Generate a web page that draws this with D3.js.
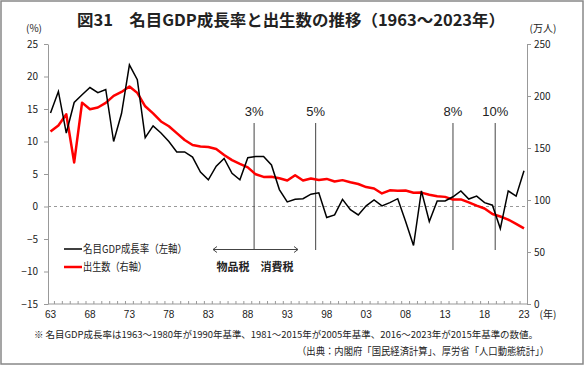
<!DOCTYPE html>
<html>
<head lang="ja">
    <meta charset="utf-8">
    <title>名目GDP成長率と出生数の推移</title>
    <style type="text/css">
        body {
            margin: 0;
            background-color: #fff;
        }

        text {
            font-family: "Noto Sans CJK JP", "Liberation Sans", sans-serif;
            fill: #222;
        }

        .num {
            font-family: "Liberation Sans", Arial, sans-serif;
            font-size: 10px;
        }

        .axis path, .axis line {
            stroke: #999;
        }
    </style>
</head>
<body>

<script src="https://cdn.jsdelivr.net/npm/d3@7"></script>
<script type="text/javascript">
    //年（1963～2023）
    var years = d3.range(1963, 2024);

    //名目GDP成長率（%）
    var gdpGrowth = [14.4, 17.7, 11.3, 16.0, 17.2, 18.3, 17.5, 18.0, 10.0, 14.3,
        21.8, 19.5, 10.6, 12.4, 11.3, 10.0, 8.4, 8.4, 7.6, 5.3,
        4.1, 6.2, 7.4, 5.1, 4.1, 7.5, 7.7, 7.7, 6.4, 2.6,
        0.7, 1.1, 1.2, 1.9, 2.1, -1.7, -1.3, 1.1, -0.5, -1.3,
        0.1, 1.0, 0.1, 0.6, 1.2, -2.3, -6.0, 2.4, -2.3, 0.85,
        0.85, 1.5, 2.4, 1.15, 1.6, 0.6, 0.2, -3.4, 2.4, 1.6,
        5.5];

    //出生数（万人）
    var births = [165.9, 171.7, 182.4, 136.1, 193.6, 187.2, 188.9, 193.4, 200.1, 203.9,
        209.2, 203.0, 190.1, 183.3, 175.5, 170.9, 164.3, 157.7, 152.9, 151.5,
        150.9, 149.0, 143.2, 138.3, 134.7, 131.4, 124.7, 122.2, 122.3, 120.9,
        118.8, 123.8, 118.7, 120.7, 119.2, 120.3, 117.8, 119.1, 117.1, 115.4,
        112.4, 111.1, 106.3, 109.3, 109.0, 109.1, 107.0, 107.1, 105.1, 103.7,
        103.0, 100.4, 100.6, 97.7, 94.6, 91.8, 86.5, 84.1, 81.2, 77.1,
        72.7];

    //目盛
    var leftTicks = [-15, -10, -5, 0, 5, 10, 15, 20, 25];
    var rightTicks = [0, 50, 100, 150, 200, 250];
    var labelYears = [1963, 1968, 1973, 1978, 1983, 1988, 1993, 1998, 2003, 2008, 2013, 2018, 2023];
    var xTickLabels = ["63", "68", "73", "78", "83", "88", "93", "98", "03", "08", "13", "18", "23"];

    //消費税率の導入・引上げ
    var taxYears = [1988.8, 1996.6, 2014.0, 2019.35];
    var taxLabels = ["3%", "5%", "8%", "10%"];

    var W = 586, H = 366;
    var pLeft = 48, pRight = 527, pTop = 44, pBottom = 304;

    var svg = d3.select("body")
        .append("svg")
        .attr("width", W)
        .attr("height", H);

    //外枠
    svg.append("rect")
        .attr("x", 1).attr("y", 1)
        .attr("width", 582).attr("height", 363)
        .attr("fill", "none")
        .attr("stroke", "#888")
        .attr("stroke-width", 1.5);

    var x = d3.scaleLinear().domain([1963, 2023]).range([50.5, 524]);
    var yL = d3.scaleLinear().domain([-15, 25]).range([pBottom, pTop]);
    var yR = d3.scaleLinear().domain([0, 250]).range([pBottom, pTop]);

    //タイトル
    svg.append("text")
        .attr("x", 291).attr("y", 26)
        .attr("text-anchor", "middle")
        .attr("textLength", 428)
        .attr("lengthAdjust", "spacingAndGlyphs")
        .style("font-size", "16px")
        .style("font-weight", "bold")
        .text("図31　名目GDP成長率と出生数の推移（1963～2023年）");

    svg.append("text").attr("x", 34).attr("y", 32)
        .attr("text-anchor", "middle").style("font-size", "10px").text("(%)");
    svg.append("text").attr("x", 543).attr("y", 32)
        .attr("text-anchor", "middle").style("font-size", "10px").text("(万人)");

    //左軸
    svg.append("g")
        .attr("class", "axis num")
        .attr("transform", "translate(" + pLeft + ",0)")
        .call(d3.axisLeft(yL).tickValues(leftTicks).tickSize(4).tickSizeOuter(0).tickPadding(6));

    //右軸
    svg.append("g")
        .attr("class", "axis num")
        .attr("transform", "translate(" + pRight + ",0)")
        .call(d3.axisRight(yR).tickValues(rightTicks).tickSize(4).tickSizeOuter(0).tickPadding(3));

    svg.selectAll(".axis text").attr("font-family", null).style("font-size", "10px").attr("fill", "#222");

    //下軸
    svg.append("line")
        .attr("x1", pLeft).attr("x2", pRight)
        .attr("y1", pBottom).attr("y2", pBottom)
        .attr("stroke", "#999");

    svg.selectAll(".minor")
        .data(years.slice(1))
        .enter()
        .append("line")
        .attr("class", "minor")
        .attr("x1", function (d) { return x(d - 0.5); })
        .attr("x2", function (d) { return x(d - 0.5); })
        .attr("y1", pBottom)
        .attr("y2", pBottom - 3)
        .attr("stroke", "#999");

    svg.selectAll(".xlab")
        .data(labelYears)
        .enter()
        .append("text")
        .attr("class", "xlab num")
        .attr("x", function (d) { return x(d); })
        .attr("y", 318)
        .attr("text-anchor", "middle")
        .text(function (d, i) { return xTickLabels[i]; });

    svg.append("text").attr("x", 548).attr("y", 318)
        .attr("text-anchor", "middle").style("font-size", "10px").text("(年)");

    //0%の点線
    svg.append("line")
        .attr("x1", pLeft).attr("x2", pRight)
        .attr("y1", yL(0)).attr("y2", yL(0))
        .attr("stroke", "#999")
        .attr("stroke-dasharray", "3,3");

    //消費税の縦線
    svg.selectAll(".tax")
        .data(taxYears)
        .enter()
        .append("line")
        .attr("class", "tax")
        .attr("x1", function (d) { return x(d); })
        .attr("x2", function (d) { return x(d); })
        .attr("y1", 123)
        .attr("y2", 250)
        .attr("stroke", "#444");

    svg.selectAll(".taxlab")
        .data(taxYears)
        .enter()
        .append("text")
        .attr("class", "taxlab")
        .attr("x", function (d) { return x(d); })
        .attr("y", 116)
        .attr("text-anchor", "middle")
        .style("font-family", "Liberation Sans, sans-serif")
        .style("font-size", "13px")
        .text(function (d, i) { return taxLabels[i]; });

    //物品税 ← → 消費税
    var ay = 249.5, ax1 = 213, ax2 = 298;
    svg.append("line")
        .attr("x1", ax1).attr("x2", ax2)
        .attr("y1", ay).attr("y2", ay)
        .attr("stroke", "#444");
    svg.append("path")
        .attr("d", "M" + (ax1 + 4) + "," + (ay - 3) + "L" + ax1 + "," + ay + "L" + (ax1 + 4) + "," + (ay + 3) +
            "M" + (ax2 - 4) + "," + (ay - 3) + "L" + ax2 + "," + ay + "L" + (ax2 - 4) + "," + (ay + 3))
        .attr("fill", "none")
        .attr("stroke", "#444");
    svg.append("text").attr("x", 233).attr("y", 271)
        .attr("text-anchor", "middle").style("font-size", "11px").style("font-weight", "bold").text("物品税");
    svg.append("text").attr("x", 277).attr("y", 271)
        .attr("text-anchor", "middle").style("font-size", "11px").style("font-weight", "bold").text("消費税");

    //折れ線
    var lineGdp = d3.line()
        .x(function (d, i) { return x(years[i]); })
        .y(function (d) { return yL(d); });

    var lineBirth = d3.line()
        .x(function (d, i) { return x(years[i]); })
        .y(function (d) { return yR(d); });

    svg.append("path")
        .datum(births)
        .attr("d", lineBirth)
        .attr("fill", "none")
        .attr("stroke", "#f00")
        .attr("stroke-width", 2.5)
        .attr("stroke-linejoin", "round");

    svg.append("path")
        .datum(gdpGrowth)
        .attr("d", lineGdp)
        .attr("fill", "none")
        .attr("stroke", "#000")
        .attr("stroke-width", 1.5);

    //凡例
    svg.append("line").attr("x1", 64).attr("x2", 82).attr("y1", 249).attr("y2", 249)
        .attr("stroke", "#000").attr("stroke-width", 1.5);
    svg.append("text").attr("x", 83).attr("y", 253).style("font-size", "11px")
        .attr("textLength", 104).attr("lengthAdjust", "spacingAndGlyphs")
        .text("名目GDP成長率（左軸）");
    svg.append("line").attr("x1", 64).attr("x2", 82).attr("y1", 267).attr("y2", 267)
        .attr("stroke", "#f00").attr("stroke-width", 2.5);
    svg.append("text").attr("x", 83).attr("y", 271).style("font-size", "11px")
        .attr("textLength", 64).attr("lengthAdjust", "spacingAndGlyphs")
        .text("出生数（右軸）");

    //注記
    svg.append("text").attr("x", 34).attr("y", 338).style("font-size", "9.5px")
        .attr("textLength", 504).attr("lengthAdjust", "spacingAndGlyphs")
        .text("※ 名目GDP成長率は1963～1980年が1990年基準、1981～2015年が2005年基準、2016～2023年が2015年基準の数値。");
    svg.append("text").attr("x", 549).attr("y", 355).attr("text-anchor", "end").style("font-size", "10px")
        .attr("textLength", 252).attr("lengthAdjust", "spacingAndGlyphs")
        .text("（出典：内閣府「国民経済計算」、厚労省「人口動態統計」）");
</script>
</body>
</html>
